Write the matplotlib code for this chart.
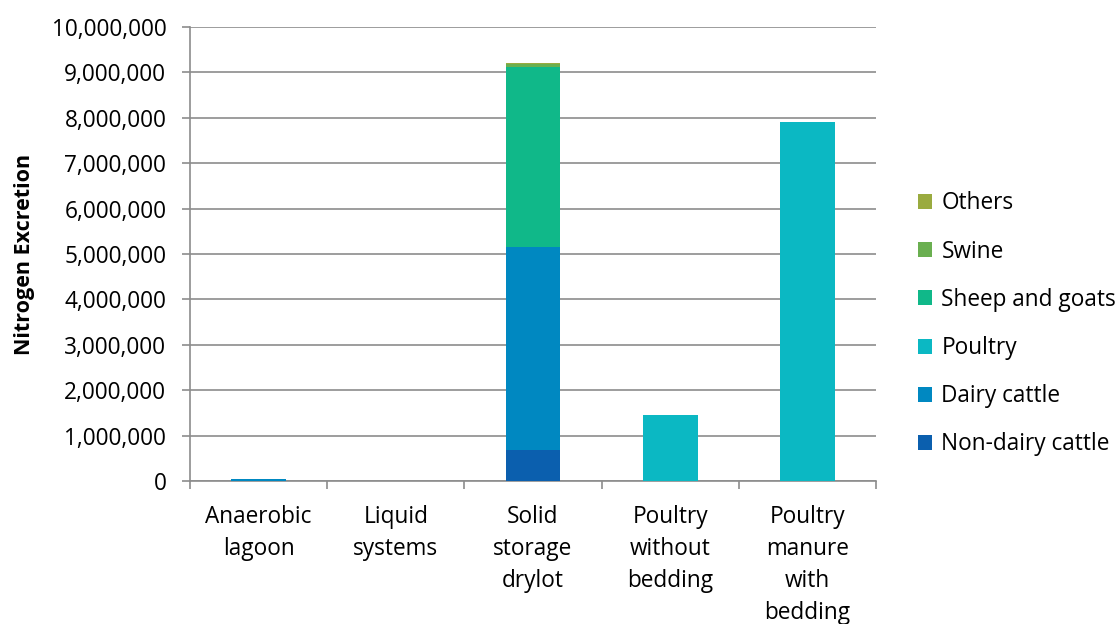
import numpy as np
import matplotlib.pyplot as plt
from matplotlib.ticker import FuncFormatter

categories = ["Anaerobic\nlagoon", "Liquid\nsystems", "Solid\nstorage\ndrylot",
              "Poultry\nwithout\nbedding", "Poultry\nmanure\nwith\nbedding"]

# stacked series, bottom to top
non_dairy = [0, 0, 680000, 0, 0]
dairy = [40000, 10000, 4470000, 0, 0]
poultry = [0, 0, 0, 1450000, 7900000]
sheep = [0, 0, 3970000, 0, 0]
swine = [0, 0, 70000, 0, 0]
others = [0, 0, 10000, 0, 0]

series = [("Non-dairy cattle", non_dairy, "#0B5FAE"),
          ("Dairy cattle", dairy, "#0088C1"),
          ("Poultry", poultry, "#0BB8C3"),
          ("Sheep and goats", sheep, "#10B889"),
          ("Swine", swine, "#6AAF50"),
          ("Others", others, "#9AAB3F")]

plt.rcParams['font.family'] = ['Open Sans', 'DejaVu Sans']
fs = 16.3

fig = plt.figure(figsize=(11.2, 6.24), dpi=100)
ax = fig.add_axes([0.1696, 0.2292, 0.6125, 0.7275])

x = np.arange(len(categories))
bottom = np.zeros(len(categories))
handles = []
for name, vals, col in series:
    h = ax.bar(x, vals, width=0.4, bottom=bottom, color=col, label=name, zorder=3)
    handles.append(h)
    bottom += np.array(vals)

ax.set_xlim(-0.5, len(categories) - 0.5)
ax.set_ylim(0, 10000000)
ax.set_yticks(np.arange(0, 10000001, 1000000))
ax.yaxis.set_major_formatter(FuncFormatter(lambda v, p: f"{int(v):,}"))
ax.grid(axis='y', color='#8c8c8c', linewidth=1.2, zorder=0)

ax.set_xticks(x)
ax.set_xticklabels(categories, fontsize=fs, linespacing=1.45, va='top')
ax.set_xticks(np.arange(-0.5, len(categories)), minor=True)
ax.tick_params(axis='x', which='major', length=0, pad=17)
ax.tick_params(axis='x', which='minor', length=6, color='#8c8c8c', width=1.2)
ax.tick_params(axis='y', length=6, color='#8c8c8c', width=1.2, labelsize=fs, pad=11)

for s in ['top', 'right']:
    ax.spines[s].set_visible(False)
for s in ['left', 'bottom']:
    ax.spines[s].set_color('#8c8c8c')
    ax.spines[s].set_linewidth(1.2)

ax.set_ylabel("Nitrogen Excretion", fontsize=15.5, fontweight='bold', labelpad=12)

ax.legend(handles=handles[::-1], loc='center left', bbox_to_anchor=(1.031, 0.346),
          frameon=False, fontsize=fs, labelspacing=1.07, handlelength=0.65,
          handleheight=0.65, handletextpad=0.4)

fig.savefig("out.png", dpi=100)
